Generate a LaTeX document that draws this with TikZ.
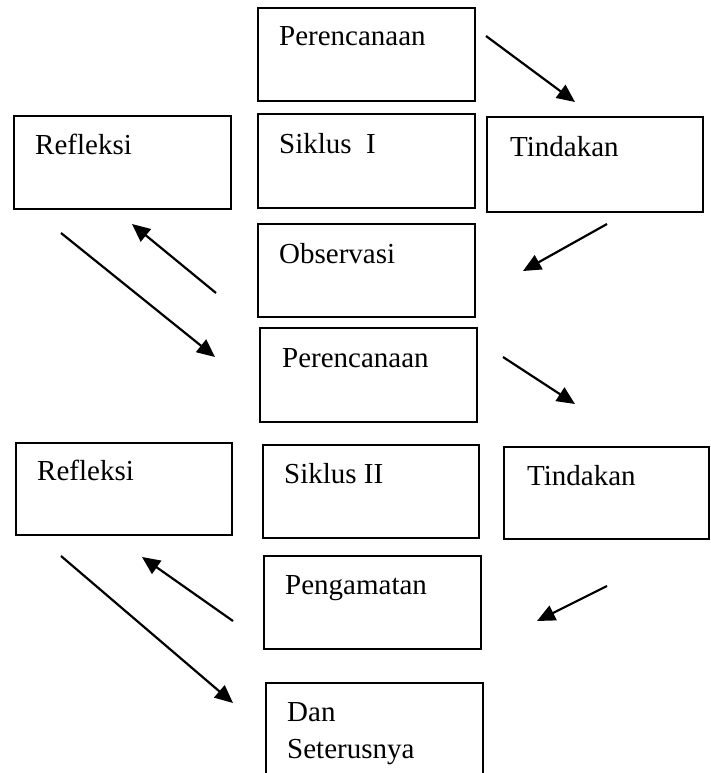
\documentclass[tikz,border=0pt]{standalone}
\usepackage{fontspec}
\setmainfont{Liberation Serif}
\usetikzlibrary{arrows.meta}
\begin{document}
\begin{tikzpicture}[x=1pt,y=-1pt,
  box/.style={draw, line width=2pt, inner sep=0pt, outer sep=0pt, anchor=north west},
  lbl/.style={anchor=base west, inner sep=0pt, font=\fontsize{29}{34}\selectfont},
  arr/.style={line width=2.2pt, -{Triangle[length=18pt,width=16pt]}}]
\useasboundingbox (0,0) rectangle (711,773);
% boxes
\node[box, minimum width=217pt, minimum height=93pt] (p1) at (258,8) {};
\node[box, minimum width=217pt, minimum height=94pt] (s1) at (258,114) {};
\node[box, minimum width=216pt, minimum height=95pt] (t1) at (487,117) {};
\node[box, minimum width=217pt, minimum height=93pt] (r1) at (14,116) {};
\node[box, minimum width=217pt, minimum height=93pt] (o1) at (258,224) {};
\node[box, minimum width=217pt, minimum height=94pt] (p2) at (260,328) {};
\node[box, minimum width=216pt, minimum height=92pt] (r2) at (16,443) {};
\node[box, minimum width=216pt, minimum height=93pt] (s2) at (263,445) {};
\node[box, minimum width=205pt, minimum height=92pt] (t2) at (504,447) {};
\node[box, minimum width=217pt, minimum height=93pt] (g2) at (264,556) {};
\node[box, minimum width=217pt, minimum height=110pt] (d) at (266,683) {};
% labels
\node[lbl] (lp1) at (279,46) {Perencanaan};
\node[lbl] (ls1) at (279,153) {Siklus\ \ I};
\node[lbl] (lt1) at (510,157) {Tindakan};
\node[lbl] (lr1) at (35,154) {Refleksi};
\node[lbl] (lo1) at (279,263) {Observasi};
\node[lbl] (lp2) at (282,367) {Perencanaan};
\node[lbl] (lr2) at (37,480) {Refleksi};
\node[lbl] (ls2) at (284,483) {Siklus II};
\node[lbl] (lt2) at (527,485) {Tindakan};
\node[lbl] (lg2) at (285,594) {Pengamatan};
\node[lbl] (ld1) at (287,721) {Dan};
\node[lbl] (ld2) at (287,758) {Seterusnya};
% arrow end points
\coordinate (a1s) at (486,36);  \coordinate (a1e) at (575,102);
\coordinate (a2s) at (607,224); \coordinate (a2e) at (523,271);
\coordinate (a3s) at (216,293); \coordinate (a3e) at (132,224);
\coordinate (a4s) at (61,233);  \coordinate (a4e) at (215,357);
\coordinate (a5s) at (503,357); \coordinate (a5e) at (575,404);
\coordinate (a6s) at (607,586); \coordinate (a6e) at (537,621);
\coordinate (a7s) at (233,621); \coordinate (a7e) at (142,557);
\coordinate (a8s) at (61,556);  \coordinate (a8e) at (233,703);
\draw[arr] (a1s) -- (a1e);
\draw[arr] (a2s) -- (a2e);
\draw[arr] (a3s) -- (a3e);
\draw[arr] (a4s) -- (a4e);
\draw[arr] (a5s) -- (a5e);
\draw[arr] (a6s) -- (a6e);
\draw[arr] (a7s) -- (a7e);
\draw[arr] (a8s) -- (a8e);
\end{tikzpicture}
\end{document}
